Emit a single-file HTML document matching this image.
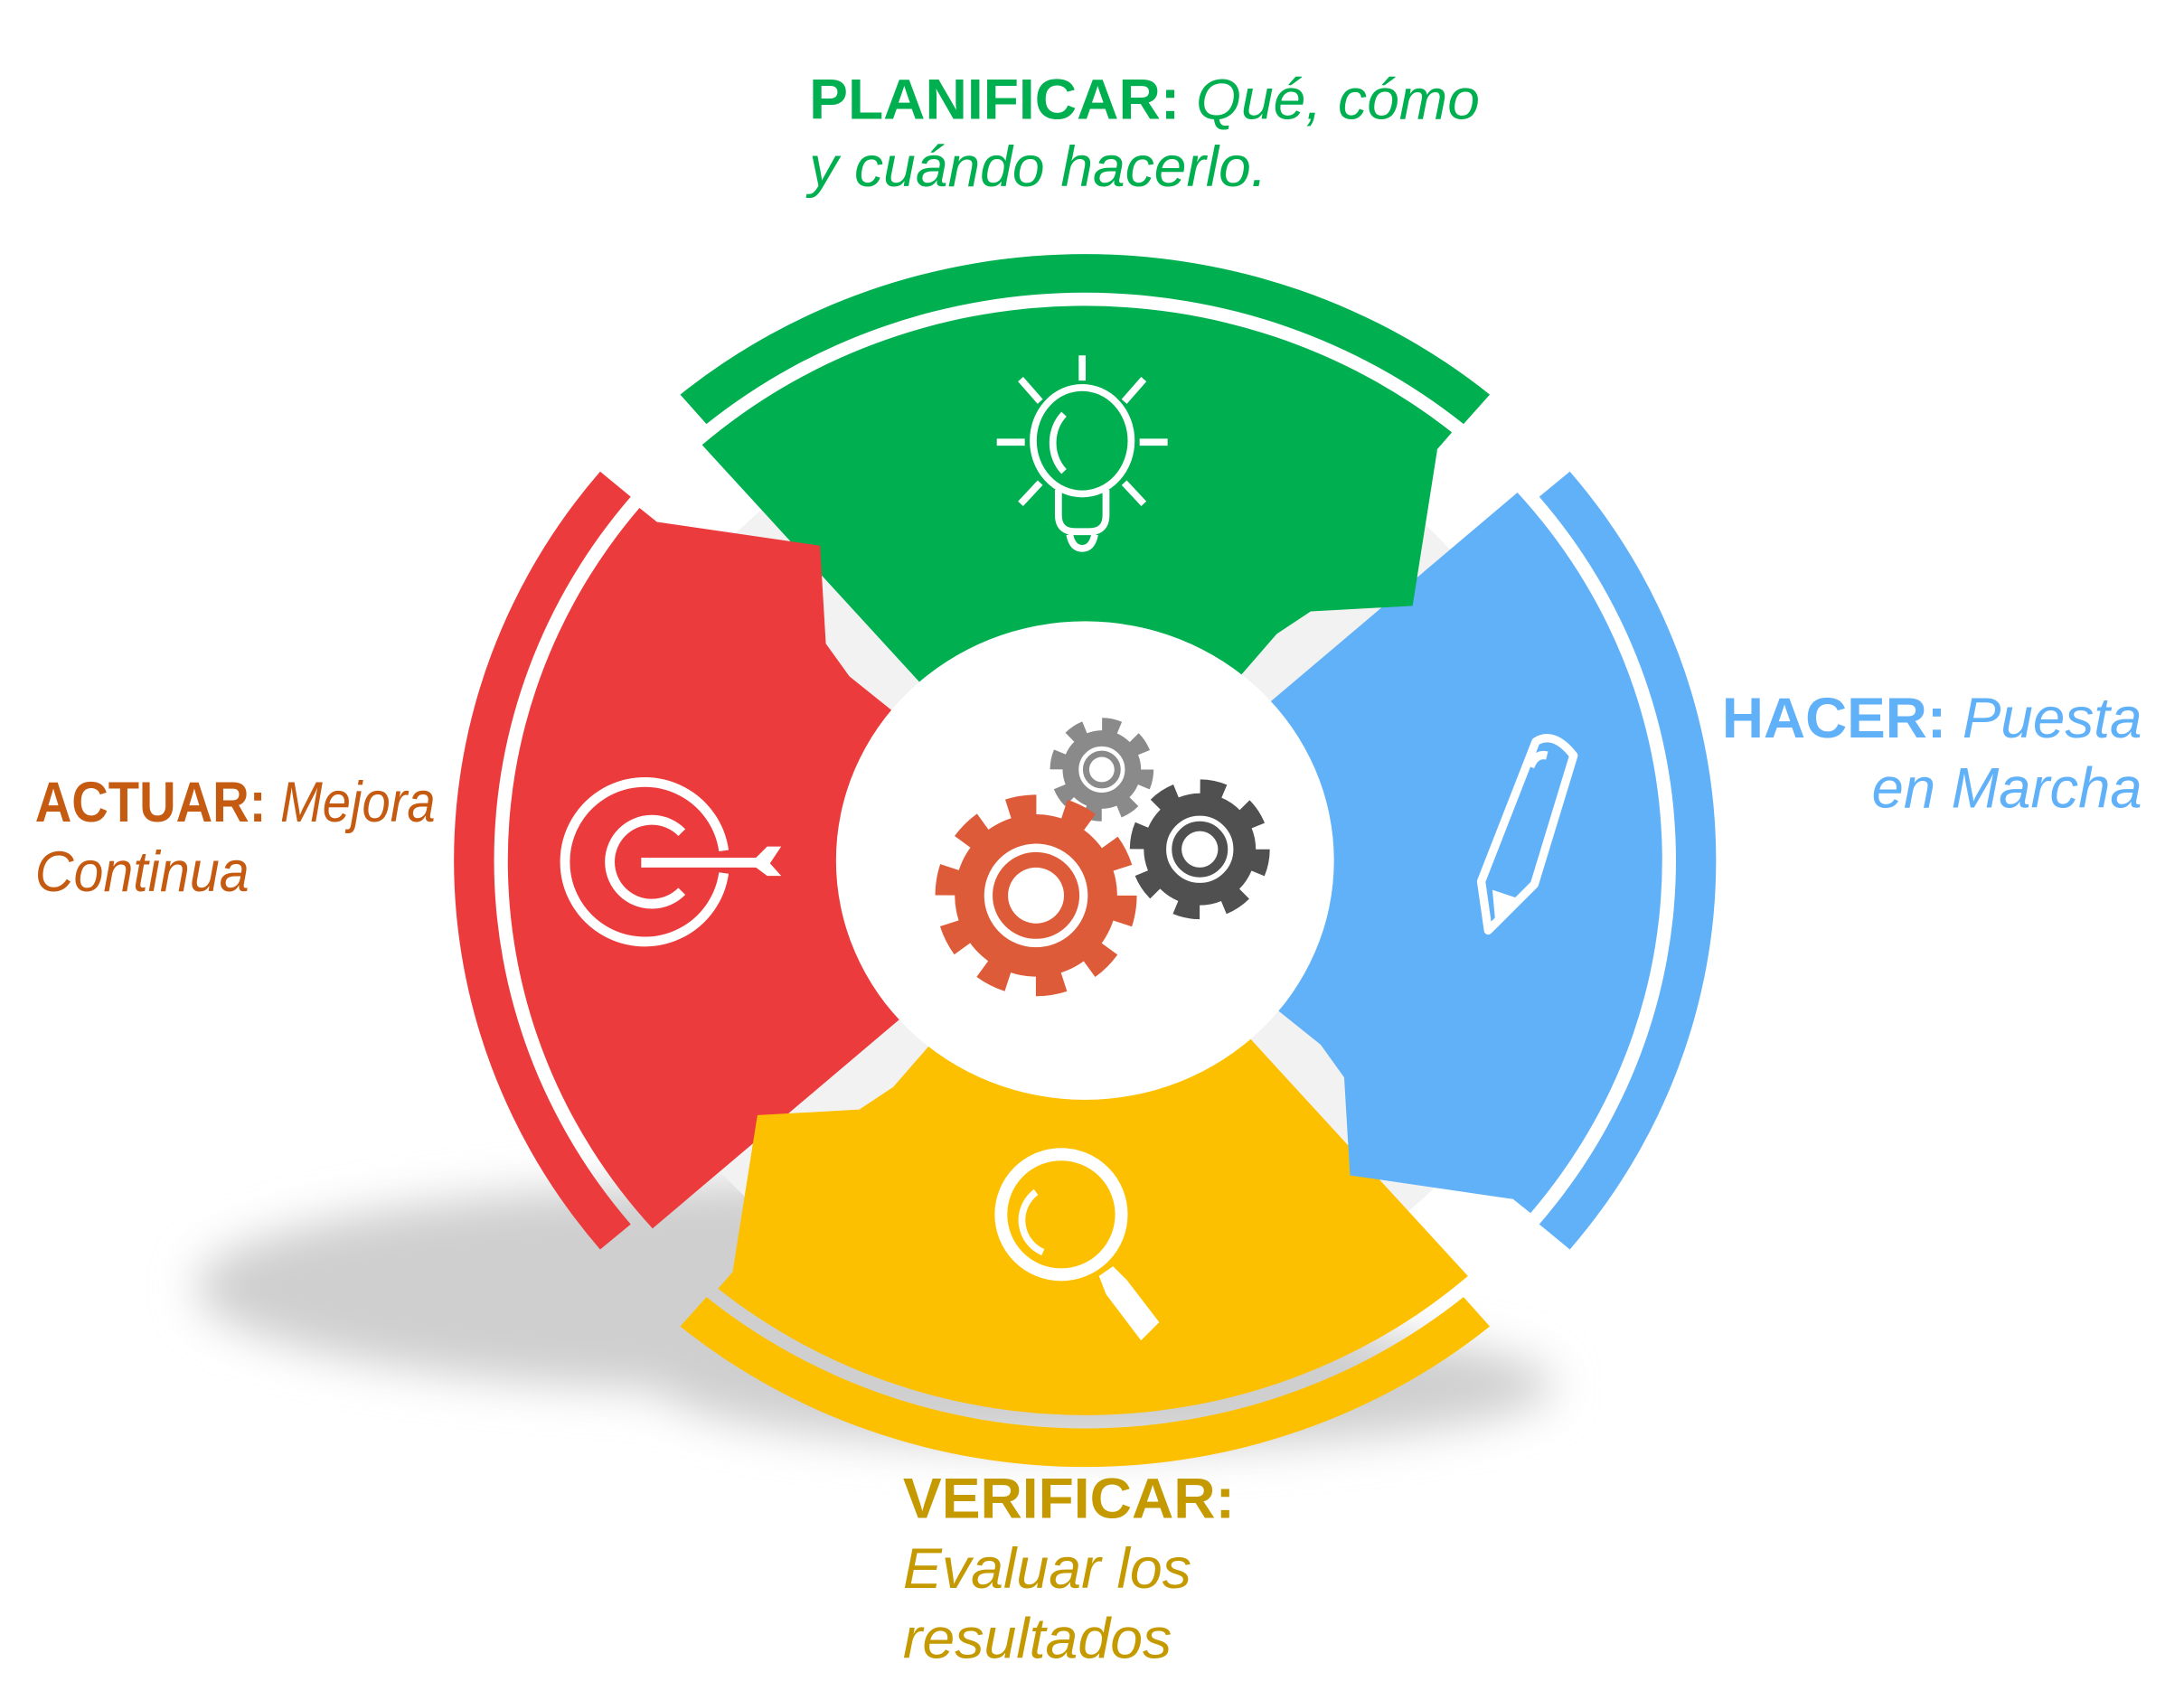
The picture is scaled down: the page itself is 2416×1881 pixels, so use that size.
<!DOCTYPE html>
<html><head><meta charset="utf-8"><style>html,body{margin:0;padding:0;background:#fff}svg{display:block}</style></head>
<body>
<svg width="2416" height="1881" viewBox="0 0 1560 1215" preserveAspectRatio="none" xmlns="http://www.w3.org/2000/svg">
<defs>
<filter id="b" x="-30%" y="-50%" width="160%" height="200%"><feGaussianBlur stdDeviation="16"/></filter>
<g id="band"><path d="M -278 -333 A 435 435 0 0 1 278 -333 L 260 -312 A 407 407 0 0 0 -260 -312 Z"/></g>
<g id="body"><path d="M -263 -297 A 397 397 0 0 1 252 -306 L 80 -100 L -85 -95 Z"/></g>
<g id="tab"><path d="M 242 -294 L 225 -182 L 155 -178 L 100 -140 L 150 -190 Z"/></g>
</defs>
<rect width="1560" height="1215" fill="#fff"/>
<g filter="url(#b)" fill="#cfcfcf">
<ellipse cx="560" cy="920" rx="420" ry="75"/>
<ellipse cx="790" cy="990" rx="320" ry="45"/>
</g>
<g transform="translate(775,615) scale(1.04,1)">
<circle r="335" fill="#f2f2f2"/>
<g fill="#00af50"><use href="#band"/><use href="#body"/></g>
<g fill="#61b1f9" transform="rotate(90)"><use href="#band"/><use href="#body"/></g>
<g fill="#fdc000" transform="rotate(180)"><use href="#band"/><use href="#body"/></g>
<g fill="#eb3b3c" transform="rotate(270)"><use href="#band"/><use href="#body"/></g>
<g fill="#00af50"><use href="#tab"/></g>
<g fill="#61b1f9" transform="rotate(90)"><use href="#tab"/></g>
<g fill="#fdc000" transform="rotate(180)"><use href="#tab"/></g>
<g fill="#eb3b3c" transform="rotate(270)"><use href="#tab"/></g>
<circle r="171" fill="#fff"/>
</g>
<!-- bulb -->
<g stroke="#fff" fill="none" stroke-width="5">
<ellipse cx="773" cy="315" rx="35" ry="38"/>
<path d="M760 296 A25 28 0 0 0 760 337" />
<path d="M756 350 V368 Q756 380 768 380 H778 Q790 380 790 368 V350"/>
<path d="M764 382 Q766 392 773 392 Q780 392 782 382"/>
<path d="M773 254 V272 M712 316 H732 M814 316 H834 M729 271 L743 287 M817 271 L803 287 M729 360 L743 345 M817 360 L803 345"/>
</g>
<!-- pencil -->
<g stroke="#fff" stroke-width="6" fill="none" stroke-linejoin="round">
<path d="M1097 530 Q1110 522 1124 540 L1096 632 L1063 665 L1058 630 Z"/>
<path d="M1093 548 Q1097 538 1105 540"/>
</g>
<path d="M1066 636 L1084 642 L1068 658 Z" fill="#fff"/>
<!-- target -->
<g stroke="#fff" stroke-width="7" fill="none">
<path d="M517 608 A57 57 0 1 0 517 624"/>
<path d="M487 595 A30 30 0 1 0 487 637"/>
</g>
<path d="M458 613 H540 L548 605 H558 L550 617 L558 626 H548 L540 620 H458 Z" fill="#fff"/>
<!-- magnifier -->
<g stroke="#fff" fill="none">
<circle cx="758" cy="868" r="43" stroke-width="9"/>
<path d="M740 852 A25 25 0 0 0 745 895" stroke-width="5"/>
</g>
<path d="M795 905 L805 915 L828 945 L815 958 L790 925 L785 912 Z" fill="#fff"/>
<!-- gears -->
<g>
<circle cx="787" cy="550" r="28" fill="#8a8a8a"/>
<circle cx="787" cy="550" r="31" fill="none" stroke="#8a8a8a" stroke-width="12" stroke-dasharray="12.17 12.17"/>
<circle cx="787" cy="550" r="15" fill="none" stroke="#fff" stroke-width="3"/>
<circle cx="787" cy="550" r="9" fill="#fff"/>
<circle cx="857" cy="607" r="40" fill="#505050"/>
<circle cx="857" cy="607" r="43" fill="none" stroke="#505050" stroke-width="14" stroke-dasharray="16.9 16.9"/>
<circle cx="857" cy="607" r="22" fill="none" stroke="#fff" stroke-width="4"/>
<circle cx="857" cy="607" r="13" fill="#fff"/>
<circle cx="740" cy="640" r="58" fill="#dd5b38"/>
<circle cx="740" cy="640" r="63" fill="none" stroke="#dd5b38" stroke-width="18" stroke-dasharray="19.8 19.8"/>
<circle cx="740" cy="640" r="34" fill="none" stroke="#fff" stroke-width="6"/>
<circle cx="740" cy="640" r="20" fill="#fff"/>
</g>
<!-- text -->
<g font-family="'Liberation Sans', sans-serif" font-size="41">
<text x="578" y="85" fill="#00af50" textLength="479" lengthAdjust="spacingAndGlyphs"><tspan font-weight="bold">PLANIFICAR:</tspan><tspan font-style="italic"> Qué, cómo</tspan></text>
<text x="578" y="133" fill="#00af50" font-style="italic" textLength="327" lengthAdjust="spacingAndGlyphs">y cuándo hacerlo.</text>
<text x="1230" y="527" fill="#61b1f9" textLength="300" lengthAdjust="spacingAndGlyphs"><tspan font-weight="bold">HACER:</tspan><tspan font-style="italic"> Puesta</tspan></text>
<text x="1337" y="577" fill="#61b1f9" font-style="italic" textLength="193" lengthAdjust="spacingAndGlyphs">en Marcha</text>
<text x="25" y="587" fill="#c55a11" textLength="286" lengthAdjust="spacingAndGlyphs"><tspan font-weight="bold">ACTUAR:</tspan><tspan font-style="italic"> Mejora</tspan></text>
<text x="25" y="637" fill="#c55a11" font-style="italic" textLength="153" lengthAdjust="spacingAndGlyphs">Continua</text>
<text x="645" y="1085" fill="#c49a00" font-weight="bold" textLength="237" lengthAdjust="spacingAndGlyphs">VERIFICAR:</text>
<text x="645" y="1135" fill="#c49a00" font-style="italic" textLength="206" lengthAdjust="spacingAndGlyphs">Evaluar los</text>
<text x="645" y="1185" fill="#c49a00" font-style="italic" textLength="192" lengthAdjust="spacingAndGlyphs">resultados</text>
</g>
</svg>
</body></html>
